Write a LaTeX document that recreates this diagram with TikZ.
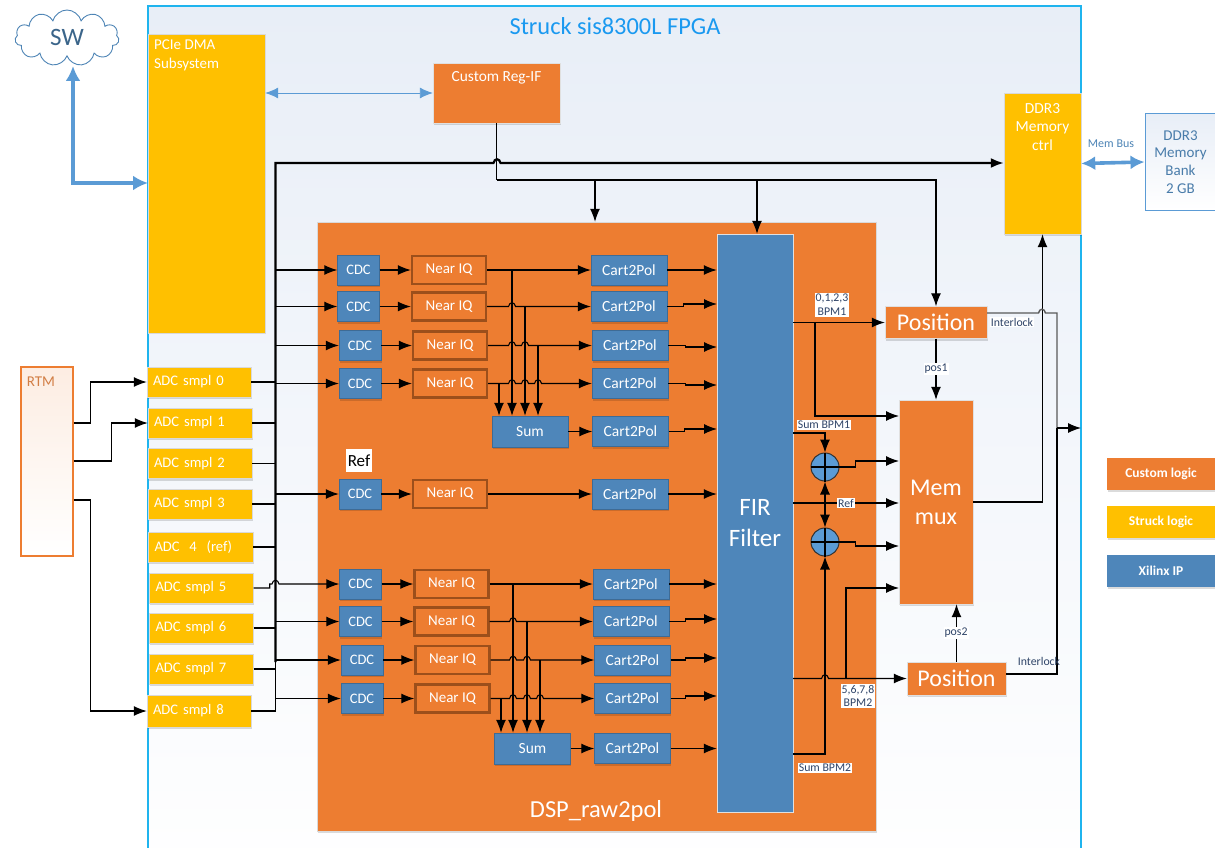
\documentclass[tikz,border=0pt]{standalone}
\usepackage{fontspec}
\setmainfont{Carlito}
\usepackage{amsmath}
\usetikzlibrary{positioning,arrows.meta,shapes.symbols,shadows}
\definecolor{fpgablue}{HTML}{1FB4EE}
\definecolor{fpgatint}{HTML}{E8EEF7}
\definecolor{customorange}{HTML}{ED7D31}
\definecolor{struckyellow}{HTML}{FFC000}
\definecolor{xilinxblue}{HTML}{4E86BA}
\definecolor{softblue}{HTML}{5B9BD5}
\definecolor{neardark}{HTML}{9C4F1B}
\definecolor{labelink}{HTML}{2F4468}
\newcommand{\fs}[1]{\fontsize{#1}{\the\dimexpr #1pt*5/4\relax}\selectfont}
% hop of a wire over a vertical line
\newcommand{\hopat}[2]{-- (#1-3.5,#2) .. controls (#1-2.5,#2-5) and (#1+2.5,#2-5) .. (#1+3.5,#2)}
\tikzset{
  wire/.style={line width=1.1pt, black},
  flowarrow/.style={-{Latex[length=13pt,width=10pt]}, line width=1.1pt, black},
  busline/.style={line width=2.2pt, black},
  softarrow/.style={{Latex[length=13pt,width=11pt]}-{Latex[length=13pt,width=11pt]}, line width=0.9pt, softblue},
  hostarrow/.style={{Latex[length=15pt,width=15pt]}-{Latex[length=15pt,width=15pt]}, line width=3.6pt, softblue},
  blockshadow/.style={drop shadow={shadow xshift=0.8pt, shadow yshift=-2.4pt, fill=black, opacity=0.14}},
  cdcnode/.style={draw=xilinxblue!80!black, fill=xilinxblue, text=white, minimum width=42pt, minimum height=30pt, inner sep=0pt, font=\fs{14.5}, blockshadow},
  nearnode/.style={draw=neardark, line width=2.4pt, fill=customorange, text=white, minimum width=74pt, minimum height=28pt, inner sep=0pt, font=\fs{15}},
  cartnode/.style={draw=xilinxblue!80!black, fill=xilinxblue, text=white, minimum width=76pt, minimum height=30pt, inner sep=0pt, font=\fs{15.5}, blockshadow},
  sumnode/.style={cartnode},
  adcnode/.style={draw=black!15, fill=struckyellow, text=white, minimum height=30pt, text width=92pt, align=left, inner xsep=6pt, inner ysep=0pt, font=\fs{14.6}, blockshadow},
  orangebox/.style={draw=black!12, fill=customorange, text=white, inner sep=0pt, align=center},
  yellowbox/.style={draw=black!15, fill=struckyellow, text=white, inner sep=0pt, align=center},
  legendnode/.style={minimum width=108pt, minimum height=32pt, inner sep=0pt, text=white, font=\fs{13.5}\bfseries, blockshadow},
  addnode/.style={circle, draw=black!80, line width=1pt, fill=softblue, minimum size=28pt, inner sep=0pt},
  relabel/.style={font=\fs{11.8}, fill=white, inner sep=1pt, align=center, text=labelink}
}
\begin{document}
\begin{tikzpicture}[x=1pt, y=-1pt]
  \clip[use as bounding box] (0,0) rectangle (1215,848);
  % outer blocks
  \node[draw=fpgablue, line width=2.4pt, top color=fpgatint, bottom color=white, minimum width=933pt, minimum height=880pt] (fpga) at (614.5,446) {};
  \node[text=fpgablue!85!blue, font=\fs{24.4}] (fpgatitle) at (615,26) {Struck sis8300L FPGA};
  \node[cloud, cloud puffs=11, aspect=1.9, draw=softblue!85!black, line width=0.9pt, top color=white, middle color=fpgatint, bottom color=white, minimum width=104pt, minimum height=56pt, inner sep=0pt] (swcloud) at (67,38) {};
  \node[text=black!35!softblue, font=\fs{25}] (swtext) at (67,37) {SW};
  \node[yellowbox, minimum width=117pt, minimum height=299pt] (pcie) at (206.5,183.5) {};
  \node[text=white, font=\fs{15}, anchor=north west, align=left, inner sep=0pt] (pcietext) at (154,40) {PCIe DMA\\Subsystem};
  \node[orangebox, minimum width=127pt, minimum height=60pt, blockshadow] (regif) at (496.5,93) {};
  \node[text=white, font=\fs{15.4}] (regiftext) at (496.5,78) {Custom Reg-IF};
  \node[yellowbox, minimum width=77pt, minimum height=141pt, blockshadow] (ddr) at (1042.5,163.5) {};
  \node[text=white, font=\fs{15.4}, align=center, inner sep=0pt] (ddrtext) at (1042.5,127) {DDR3\\[-1pt]Memory\\[-1pt]ctrl};
  \node[draw=softblue, line width=1pt, top color=fpgatint, bottom color=white, minimum width=71pt, minimum height=96pt, inner sep=0pt, text=softblue!80!black, font=\fs{15}, align=center] (bank) at (1180.5,162) {DDR3\\[-1pt]Memory\\[-1pt]Bank\\[-1pt]2 GB};
  \node[draw=customorange, line width=1.1pt, top color=customorange!14, bottom color=white, minimum width=52pt, minimum height=189pt] (rtm) at (47,461.5) {};
  \node[text=customorange!75!gray, font=\fs{15}] (rtmtext) at (41,382) {RTM};
  \node[orangebox, draw=black!15, minimum width=559pt, minimum height=609pt, blockshadow] (dsp) at (596.5,526.5) {};
  \node[text=white, font=\fs{24.5}] (dsptext) at (596,811) {DSP\_raw2pol};
  \node[draw=black!12!white, fill=xilinxblue, text=white, minimum width=76pt, minimum height=578pt, inner sep=0pt, font=\fs{25}, align=center] (fir) at (755,523) {FIR\\Filter};
  % adc inputs
  \node[adcnode] (adc0) at (199,382) {ADC smpl 0};
  \node[adcnode] (adc1) at (200,423) {ADC smpl 1};
  \node[adcnode] (adc2) at (200,463.5) {ADC smpl 2};
  \node[adcnode] (adc3) at (200,504) {ADC smpl 3};
  \node[adcnode, minimum width=105pt] (adc4) at (200.5,547) {ADC\ \ 4\ \ (ref)};
  \node[adcnode] (adc5) at (201.5,588) {ADC smpl 5};
  \node[adcnode] (adc6) at (201.5,628) {ADC smpl 6};
  \node[adcnode] (adc7) at (201.5,669) {ADC smpl 7};
  \node[adcnode, minimum height=32pt] (adc8) at (199,711) {ADC smpl 8};
  % upper channels
  \node[cdcnode] (cdc0) at (358.5,270) {CDC};
  \node[cdcnode] (cdc1) at (358.5,306.5) {CDC};
  \node[cdcnode] (cdc2) at (360,345.5) {CDC};
  \node[cdcnode] (cdc3) at (360,383.5) {CDC};
  \node[cdcnode] (cdc4) at (360,494) {CDC};
  \node[nearnode] (near0) at (449,270) {Near IQ};
  \node[nearnode] (near1) at (449,306.5) {Near IQ};
  \node[nearnode] (near2) at (450,345.5) {Near IQ};
  \node[nearnode] (near3) at (450,383.5) {Near IQ};
  \node[nearnode] (near4) at (450,494) {Near IQ};
  \node[cartnode] (cart0) at (629,270) {Cart2Pol};
  \node[cartnode] (cart1) at (629,306.5) {Cart2Pol};
  \node[cartnode] (cart2) at (630,345.5) {Cart2Pol};
  \node[cartnode] (cart3) at (630,383.5) {Cart2Pol};
  \node[cartnode] (cartsum1) at (630.5,431.5) {Cart2Pol};
  \node[cartnode] (cart4) at (630,494) {Cart2Pol};
  \node[sumnode, minimum height=31pt] (sum1) at (530,431.5) {Sum};
  \node[fill=white, text=black, font=\fs{17}, minimum width=26pt, minimum height=23pt, inner sep=0pt] (reftext) at (359,460.5) {Ref};
  % lower channels
  \node[cdcnode] (cdc5) at (360.5,584) {CDC};
  \node[cdcnode] (cdc6) at (360.5,621.5) {CDC};
  \node[cdcnode] (cdc7) at (362,660) {CDC};
  \node[cdcnode] (cdc8) at (362,698.5) {CDC};
  \node[nearnode] (near5) at (451.5,584) {Near IQ};
  \node[nearnode] (near6) at (451.5,621.5) {Near IQ};
  \node[nearnode] (near7) at (452.5,660) {Near IQ};
  \node[nearnode] (near8) at (452.5,698.5) {Near IQ};
  \node[cartnode] (cart5) at (631,584) {Cart2Pol};
  \node[cartnode] (cart6) at (631,621.5) {Cart2Pol};
  \node[cartnode] (cart7) at (632.5,660) {Cart2Pol};
  \node[cartnode] (cart8) at (632.5,698.5) {Cart2Pol};
  \node[cartnode] (cartsum2) at (632.5,748.5) {Cart2Pol};
  \node[sumnode, minimum height=31pt] (sum2) at (532.5,748.5) {Sum};
  % position and mux
  \node[orangebox, minimum width=102pt, minimum height=32pt, font=\fs{24}, blockshadow] (pos1) at (936,322.5) {Position};
  \node[orangebox, minimum width=99pt, minimum height=33pt, font=\fs{24}, blockshadow] (pos2) at (956.5,678.5) {Position};
  \node[orangebox, minimum width=74pt, minimum height=204pt, font=\fs{24}, blockshadow] (mux) at (936,502) {Mem\\[-1pt]mux};
  \node[addnode] (add1) at (825,467) {};
  \node[addnode] (add2) at (825,542) {};
  % legend
  \node[legendnode, fill=customorange] (legcustom) at (1161,473.5) {Custom logic};
  \node[legendnode, fill=struckyellow] (legstruck) at (1161,521.5) {Struck logic};
  \node[legendnode, fill=xilinxblue] (legxilinx) at (1161,570.5) {Xilinx IP};
  % junctions
  \coordinate (swport) at (73,66);
  \coordinate (pcieport) at (148,183);
  \coordinate (bustop) at (275.5,163);
  \coordinate (busmid) at (275.5,662);
  \coordinate (busbot) at (275.5,711);
  \coordinate (regtap) at (496.5,180);
  \coordinate (regdsp) at (595,180);
  \coordinate (regfir) at (757,180);
  \coordinate (fir1) at (717,304);
  \coordinate (fir2) at (717,347);
  \coordinate (fir3) at (717,385);
  \coordinate (firsum1) at (717,429);
  \coordinate (fir6) at (717,619);
  \coordinate (fir7) at (717,658);
  \coordinate (fir8) at (717,696);
  \coordinate (drop0) at (512,270);
  \coordinate (drop1) at (525,306.5);
  \coordinate (drop2) at (538,345.5);
  \coordinate (drop3) at (499,383.5);
  \coordinate (drop5) at (513,584);
  \coordinate (drop6) at (527,621.5);
  \coordinate (drop7) at (540,660);
  \coordinate (drop8) at (501,698.5);
  \coordinate (bpm1tap) at (815,322.5);
  \coordinate (bpm2tap) at (846,678.5);
  \coordinate (sumout1) at (793,433);
  \coordinate (sumout2) at (793,754);
  \coordinate (refout) at (793,503);
  \coordinate (reftap) at (825,503);
  \coordinate (muxin1) at (899,416);
  \coordinate (muxin2) at (899,461);
  \coordinate (muxin3) at (899,503);
  \coordinate (muxin4) at (899,546);
  \coordinate (muxin5) at (899,588);
  \coordinate (lock1) at (987,313);
  \coordinate (lock2) at (1006,674);
  \coordinate (lockbus) at (1057,428);
  \coordinate (lockout) at (1081,428);
  % host and memory links
  \draw[hostarrow] (swport) |- (pcieport);
  \draw[softarrow] (pcie.east |- regif) -- (regif);
  \draw[hostarrow, {Latex[length=14pt,width=14pt]}-{Latex[length=14pt,width=14pt]}] (ddr.east) -- (bank.west);
  \node[font=\fs{12}, text=softblue!85!black, inner sep=0pt] (membus) at (1111,144) {Mem Bus};
  % adc bus
  \draw[wire] (adc8.east) -- (busbot) -- (busmid);
  \draw[busline, -{Latex[length=13pt,width=10pt]}] (busmid) -- (bustop) \hopat{497}{163} -- (ddr.west |- bustop);
  \draw[wire] (adc0.east) -- (bustop |- adc0);
  \draw[wire] (adc1.east) -- (bustop |- adc1);
  \draw[wire] (adc2.east) -- (bustop |- adc2);
  \draw[wire] (adc3.east) -- (bustop |- adc3);
  \draw[wire] (adc4.east) -- (bustop |- adc4);
  \draw[wire] (adc6.east) -- (bustop |- adc6);
  \draw[wire] (adc7.east) -- (bustop |- adc7);
  \draw[flowarrow] (adc5.east) -- ++(16,0) |- (272,584) \hopat{275.5}{584} -- (cdc5);
  \draw[flowarrow] (rtm.east |- adc1) -- ++(17,0) |- (adc0.west);
  \draw[flowarrow] (rtm.east |- 0,461) -- ++(38,0) |- (adc1.west);
  \draw[flowarrow] (rtm.east |- 0,500) -- ++(17,0) |- (adc8.west);
  \draw[flowarrow] (bustop |- cdc0) -- (cdc0);
  \draw[flowarrow] (bustop |- cdc1) -- (cdc1);
  \draw[flowarrow] (bustop |- cdc2) -- (cdc2);
  \draw[flowarrow] (bustop |- cdc3) -- (cdc3);
  \draw[flowarrow] (bustop |- cdc4) -- (cdc4);
  \draw[flowarrow] (bustop |- cdc6) -- (cdc6);
  \draw[flowarrow] (bustop |- cdc7) -- (cdc7);
  \draw[flowarrow] (bustop |- cdc8) -- (cdc8);
  % control register links
  \draw[wire] (regif.south) -- (regtap);
  \draw[flowarrow] (regtap) -| (pos1.north);
  \draw[flowarrow] (regdsp) -- (regdsp |- dsp.north);
  \draw[flowarrow] (regfir) -- (regfir |- fir.north);
  % upper channel wiring
  \draw[flowarrow] (cdc0) -- (near0);
  \draw[flowarrow] (cdc1) -- (near1);
  \draw[flowarrow] (cdc2) -- (near2);
  \draw[flowarrow] (cdc3) -- (near3);
  \draw[flowarrow] (cdc4) -- (near4);
  \draw[flowarrow] (near0) -- (cart0);
  \draw[flowarrow] (near1.east) \hopat{512}{306.5} -- (cart1);
  \draw[flowarrow] (near2.east) \hopat{512}{345.5} \hopat{525}{345.5} -- (cart2);
  \draw[flowarrow] (near3.east) \hopat{512}{383.5} \hopat{525}{383.5} \hopat{538}{383.5} -- (cart3);
  \draw[flowarrow] (near4) -- (cart4);
  \draw[flowarrow] (drop0) -- (drop0 |- sum1.north);
  \draw[flowarrow] (drop1) -- (drop1 |- sum1.north);
  \draw[flowarrow] (drop2) -- (drop2 |- sum1.north);
  \draw[flowarrow] (drop3) -- (drop3 |- sum1.north);
  \draw[flowarrow] (sum1) -- (cartsum1);
  \draw[flowarrow] (cart0) -- (fir.west |- cart0);
  \draw[flowarrow] (cart1.east) -- ++(16,0) |- (fir1);
  \draw[flowarrow] (cart2.east) -- ++(17,0) |- (fir2);
  \draw[flowarrow] (cart3.east) -- ++(17,0) |- (fir3);
  \draw[flowarrow] (cartsum1.east) -- ++(16,0) |- (firsum1);
  \draw[flowarrow] (cart4) -- (fir.west |- cart4);
  % lower channel wiring
  \draw[flowarrow] (cdc5) -- (near5);
  \draw[flowarrow] (cdc6) -- (near6);
  \draw[flowarrow] (cdc7) -- (near7);
  \draw[flowarrow] (cdc8) -- (near8);
  \draw[flowarrow] (near5) -- (cart5);
  \draw[flowarrow] (near6.east) \hopat{513}{621.5} -- (cart6);
  \draw[flowarrow] (near7.east) \hopat{513}{660} \hopat{527}{660} -- (cart7);
  \draw[flowarrow] (near8.east) \hopat{513}{698.5} \hopat{527}{698.5} \hopat{540}{698.5} -- (cart8);
  \draw[flowarrow] (drop5) -- (drop5 |- sum2.north);
  \draw[flowarrow] (drop6) -- (drop6 |- sum2.north);
  \draw[flowarrow] (drop7) -- (drop7 |- sum2.north);
  \draw[flowarrow] (drop8) -- (drop8 |- sum2.north);
  \draw[flowarrow] (sum2) -- (cartsum2);
  \draw[flowarrow] (cart5) -- (fir.west |- cart5);
  \draw[flowarrow] (cart6.east) -- ++(16,0) |- (fir6);
  \draw[flowarrow] (cart7.east) -- ++(15,0) |- (fir7);
  \draw[flowarrow] (cart8.east) -- ++(15,0) |- (fir8);
  \draw[flowarrow] (cartsum2) -- (fir.west |- cartsum2);
  % outputs of the filter
  \draw[flowarrow] (fir.east |- pos1) -- (pos1);
  \draw[flowarrow] (bpm1tap) |- (muxin1);
  \draw[flowarrow] (sumout1) -| (add1.north);
  \draw[flowarrow] (add1.east) -- ++(16,0) |- (muxin2);
  \draw[flowarrow] (refout) -- (muxin3);
  \draw[flowarrow] (reftap) -- (add1.south);
  \draw[flowarrow] (reftap) -- (add2.north);
  \draw[flowarrow] (add2.east) -- ++(16,0) |- (muxin4);
  \draw[flowarrow] (sumout2) -| (add2.south);
  \draw[flowarrow] (fir.east |- pos2) \hopat{825}{678.5} -- (pos2);
  \draw[flowarrow] (bpm2tap) |- (muxin5);
  \draw[wire] (add1.north) -- (add1.south);
  \draw[wire] (add1.west) -- (add1.east);
  \draw[wire] (add2.north) -- (add2.south);
  \draw[wire] (add2.west) -- (add2.east);
  \draw[flowarrow] (pos1) -- (mux);
  \draw[flowarrow] (pos2.north) -- (pos2.north |- mux.south);
  \draw[flowarrow] (mux.east) -| (ddr.south);
  \draw[wire, black!65, line width=1.4pt] (lock1) \hopat{1042}{313} -| (lockbus);
  \draw[wire] (lock2) -| (lockbus);
  \draw[flowarrow] (lockbus) -- (lockout);
  % wire labels
  \node[relabel] (lblbpm1) at (832,305) {0,1,2,3\\[-1pt]BPM1};
  \node[relabel] (lblsum1) at (824,425) {Sum BPM1};
  \node[relabel] (lblref) at (846,503) {Ref};
  \node[relabel] (lblpos1) at (936,369) {pos1};
  \node[relabel] (lblpos2) at (956,633) {pos2};
  \node[relabel] (lbllock1) at (1012,322) {Interlock};
  \node[relabel, fill=none] (lbllock2) at (1039,661) {Interlock};
  \node[relabel] (lblbpm2) at (858,696) {5,6,7,8\\[-1pt]BPM2};
  \node[relabel] (lblsum2) at (825,768) {Sum BPM2};
\end{tikzpicture}
\end{document}
